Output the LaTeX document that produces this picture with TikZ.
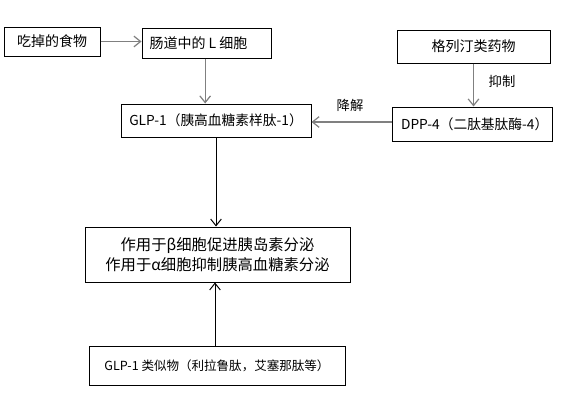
\documentclass[tikz,border=0pt]{standalone}
\usepackage{fontspec}
\setmainfont{Noto Sans CJK SC}
\usetikzlibrary{arrows.meta}
\definecolor{arrgray}{RGB}{128,128,128}
\begin{document}
\begin{tikzpicture}[x=0.75pt,y=-0.75pt,
  box/.style={draw=black, line width=0.75pt, inner sep=0pt, align=center},
  big/.style={font=\fontsize{10.5pt}{14pt}\selectfont},
  huge/.style={font=\fontsize{11.5pt}{15pt}\selectfont},
  mid/.style={font=\fontsize{10.3pt}{13pt}\selectfont},
  small/.style={font=\fontsize{9.4pt}{12pt}\selectfont},
  garrow/.style={draw=arrgray, line width=0.9pt, -{Straight Barb[length=5pt,width=8pt]}},
  barrow/.style={draw=black, line width=0.75pt, -{Straight Barb[length=5pt,width=8pt]}},
  lbl/.style={font=\fontsize{10pt}{12pt}\selectfont, inner sep=0pt}]
\useasboundingbox[fill=white] (0,0) rectangle (566,407);
\node[box,big,minimum width=96*0.75pt,minimum height=29*0.75pt] (food) at (52,41.5) {吃掉的食物};
\node[box,big,minimum width=129*0.75pt,minimum height=30*0.75pt] (lcell) at (206.5,43) {肠道中的 L 细胞\hspace*{12pt}};
\node[box,big,minimum width=153*0.75pt,minimum height=33*0.75pt] (glipt) at (473.5,46.5) {格列汀类药物};
\node[box,mid,minimum width=190*0.75pt,minimum height=33*0.75pt] (glp) at (216,120.5) {GLP-1（胰高血糖素样肽-1）};
\node[box,mid,minimum width=160*0.75pt,minimum height=34*0.75pt] (dpp) at (472,124) {\hspace*{4pt}DPP-4（二肽基肽酶-4）};
\node[box,huge,minimum width=265*0.75pt,minimum height=55*0.75pt] (act) at (217.5,254.5) {作用于β细胞促进胰岛素分泌\\作用于α细胞抑制胰高血糖素分泌};
\node[box,small,minimum width=256*0.75pt,minimum height=39*0.75pt] (ana) at (217,365.5) {GLP-1 类似物（利拉鲁肽，艾塞那肽等）};
\draw[garrow] (food.east) -- (food.east -| lcell.west);
\draw[garrow] ([xshift=-1pt]lcell.south) -- ([xshift=-1pt]lcell.south |- glp.north);
\draw[garrow] (glipt.south) -- (glipt.south |- dpp.north);
\draw[garrow] ([yshift=1.5pt]dpp.west) -- ([yshift=1.5pt]dpp.west -| glp.east);
\draw[barrow] (glp.south) -- (glp.south |- act.north);
\draw[barrow] ([xshift=-1.5pt]ana.north) -- ([xshift=-1.5pt]ana.north |- act.south);
\node[lbl] (deg) at (350,105) {降解};
\node[lbl] (inh) at (502,81) {抑制};
\end{tikzpicture}
\end{document}
